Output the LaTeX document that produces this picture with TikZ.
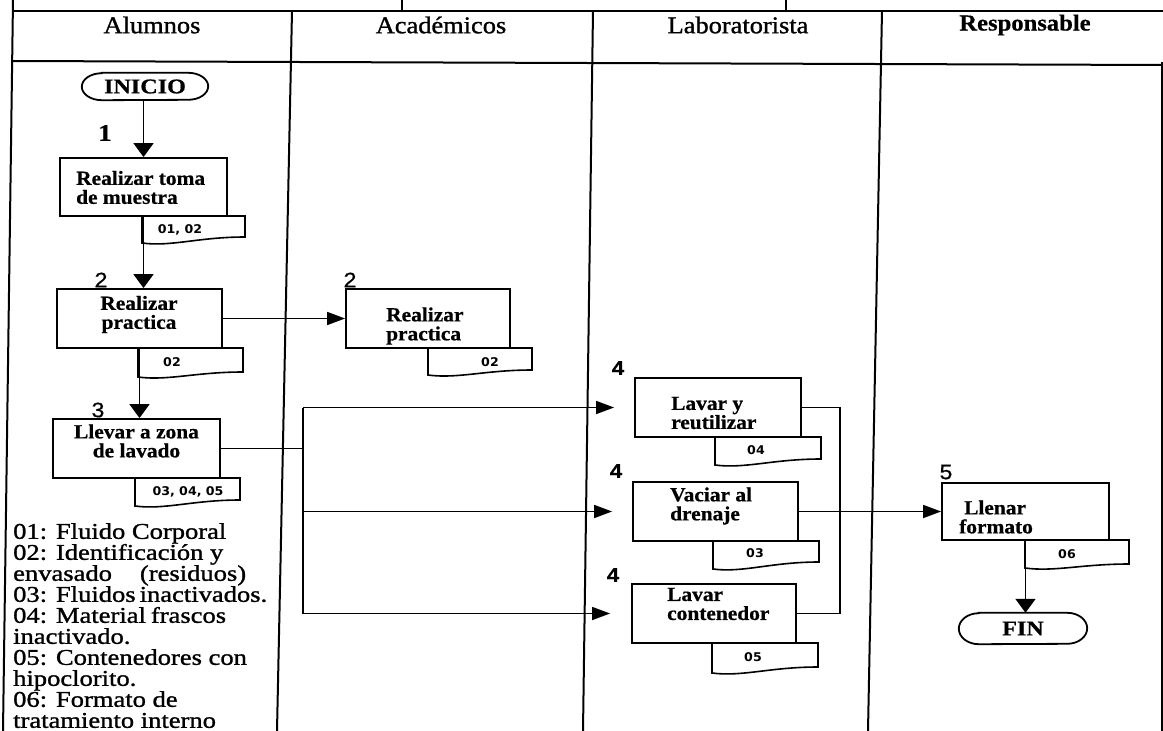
\documentclass[tikz,border=0pt]{standalone}
\usepackage{fontspec}
\setmainfont{Liberation Serif}
\newfontfamily\hdfont{Liberation Serif}[FakeStretch=1.1,FakeBold=1.2]
\newfontfamily\bxfont{Liberation Serif}[FakeStretch=1.07,FakeBold=0.6]
\newfontfamily\tmfont{Liberation Serif}[FakeStretch=1.15,FakeBold=0.6]
\newfontfamily\lgfont{Liberation Serif}[FakeStretch=1.18,FakeBold=1.2]
\newfontfamily\nmfont{Liberation Sans}[FakeStretch=1.1,FakeBold=0.6]
\newfontfamily\dcfont{DejaVu Sans}[FakeStretch=1.05]
\usetikzlibrary{arrows.meta,calc}

% document symbol hanging under a step box: left x, right x, top y, bottom-left y, bottom-right y
\newcommand{\docshape}[5]{%
  \pgfmathsetmacro{\dcA}{#1+0.28*(#2-#1)}%
  \pgfmathsetmacro{\dcB}{#1+0.55*(#2-#1)}%
  \pgfmathsetmacro{\dcC}{#4+4}%
  \draw[docline] (#1,#3) -- (#1,#4) .. controls (\dcA,\dcC) and (\dcB,#5) .. (#2,#5) -- (#2,#3) -- cycle;}

% start / end terminal outline around a named node
\newcommand{\termshape}[2]{%
  \draw[termline] ($(#1.north west)+(20,0)$) -- ($(#1.north east)+(-20,0)$)
    arc[start angle=90,end angle=-90,x radius=20pt,y radius=#2]
    -- ($(#1.south west)+(20,0)$)
    arc[start angle=270,end angle=90,x radius=20pt,y radius=#2] -- cycle;}

\begin{document}
\begin{tikzpicture}[x=1pt,y=-1pt,
  lane/.style={line width=2pt},
  stepbox/.style={draw, line width=1.8pt, rectangle, inner sep=0pt},
  steptext/.style={font=\bxfont\bfseries\fontsize{20}{19}\selectfont, inner sep=0pt},
  docline/.style={line width=1.6pt},
  doctext/.style={font=\dcfont\bfseries\fontsize{12}{13}\selectfont, inner sep=0pt},
  termline/.style={line width=1.8pt},
  term/.style={inner sep=0pt, font=\tmfont\bfseries\fontsize{21}{21}\selectfont},
  head/.style={font=\hdfont\fontsize{24}{26}\selectfont, inner sep=0pt},
  stepnum/.style={font=\nmfont\fontsize{21}{21}\selectfont, inner sep=0pt},
  flow/.style={line width=1.7pt},
  vflow/.style={flow, -{Triangle[length=14pt,width=20pt]}},
  hflow/.style={flow, -{Triangle[length=18pt,width=13pt]}},
  legend/.style={font=\lgfont\fontsize{22.5}{21}\selectfont, align=left, inner sep=0pt}
]
\useasboundingbox (0,0) rectangle (1163,731);
\fill[white] (0,0) rectangle (1163,731);

% ---- swimlane frame ----
\draw[lane] (13,0) -- (3,731);
\draw[lane] (292,11) -- (277,731);
\draw[lane] (593,11) -- (583,731);
\draw[lane] (882,11) -- (868,731);
\draw[lane] (1162,62) -- (1162,731);
\draw[lane] (13,11) -- (1163,11);
\draw[lane] (12,61) -- (1163,65);
\draw[lane] (402,0) -- (402,11);
\draw[lane] (786,0) -- (786,11);

\node[head] (hAl) at (152,25) {Alumnos};
\node[head] (hAc) at (441,25) {Académicos};
\node[head] (hLa) at (738,25) {Laboratorista};
\node[head, font=\bxfont\bfseries\fontsize{23}{26}\selectfont] (hRe) at (1025,25) {Responsable};

% ---- Alumnos ----
\node[term, minimum width=126pt, minimum height=27pt] (inicio) at (145,86.5) {INICIO};
\termshape{inicio}{13.5pt}

\node[stepbox, minimum width=167pt, minimum height=58pt] (r1) at (143.5,187) {};
\node[steptext, align=left, anchor=west] (r1t) at (76,187.5) {Realizar toma\\de muestra};
\docshape{142}{245}{216}{243}{237}
\node[doctext] (d1) at (180,230) {01, 02};

\node[stepbox, minimum width=165pt, minimum height=59pt] (r2) at (139.5,318.5) {};
\node[steptext, align=center] (r2t) at (139,314.5) {Realizar\\practica};
\docshape{138}{243}{348}{377}{372}
\node[doctext] (d2) at (172,362) {02};

\node[stepbox, minimum width=167pt, minimum height=59pt] (r3) at (136.5,448.5) {};
\node[steptext, align=center] (r3t) at (136.5,441) {Llevar a zona\\de lavado};
\docshape{135}{240}{478}{506}{500}
\node[doctext] (d3) at (188,492) {03, 04, 05};

\node[legend, anchor=north west] (leg) at (13,523) {01: Fluido Corporal\\
02: Identificación y\\
envasado\hspace{28pt}(residuos)\\
03: Fluidos\hspace{4pt}inactivados.\\
04: Material\hspace{5pt}frascos\\
inactivado.\\
05: Contenedores con\\
hipoclorito.\\
06: Formato de\\
tratamiento interno};

\node[font=\tmfont\bfseries\fontsize{24}{24}\selectfont, inner sep=0pt] (n1) at (105,133) {1};
\node[stepnum] (n2) at (101,280) {2};
\node[stepnum] (n3) at (98,410) {3};

% ---- Académicos ----
\node[stepbox, minimum width=164pt, minimum height=59pt] (a2) at (428,318.5) {};
\node[steptext, align=left, anchor=west] (a2t) at (386,326) {Realizar\\practica};
\docshape{428}{532}{348}{375}{370}
\node[doctext] (da) at (490,362) {02};
\node[stepnum] (na) at (350,280) {2};

% ---- Laboratorista ----
\node[stepbox, minimum width=166pt, minimum height=59pt] (l1) at (718,407.5) {};
\node[steptext, align=left, anchor=west] (l1t) at (671,413) {Lavar y\\reutilizar};
\docshape{715}{821}{437}{465}{459}
\node[doctext] (d4) at (756,450) {04};

\node[stepbox, minimum width=165pt, minimum height=59pt] (l2) at (715.5,511.5) {};
\node[steptext, align=left, anchor=west] (l2t) at (670,506) {Vaciar al\\drenaje};
\docshape{713}{819}{541}{569}{562}
\node[doctext] (d5) at (755,553) {03};

\node[stepbox, minimum width=164pt, minimum height=59pt] (l3) at (714,613.5) {};
\node[steptext, align=left, anchor=west] (l3t) at (667,604) {Lavar\\contenedor};
\docshape{712}{818}{643}{673}{667}
\node[doctext] (d6) at (753,657) {05};

\node[stepnum, font=\nmfont\bfseries\fontsize{20}{20}\selectfont] (n4a) at (618,368) {4};
\node[stepnum, font=\nmfont\bfseries\fontsize{20}{20}\selectfont] (n4b) at (616,471) {4};
\node[stepnum, font=\nmfont\bfseries\fontsize{20}{20}\selectfont] (n4c) at (613,575) {4};

% ---- Responsable ----
\node[stepbox, minimum width=167pt, minimum height=57pt] (f1) at (1025.5,511.5) {};
\node[steptext, align=left, anchor=west] (f1t) at (959,517) {\hspace*{5pt}Llenar\\formato};
\docshape{1025}{1129}{540}{568}{564}
\node[doctext] (d7) at (1067,554) {06};
\node[stepnum] (n5) at (946,472) {5};

\node[term, minimum width=128pt, minimum height=31pt] (fin) at (1023,628.5) {FIN};
\termshape{fin}{15.5pt}

% ---- connectors ----
\coordinate (split) at (303,0);
\coordinate (join) at (840,0);
\draw[vflow] (r1.north |- inicio.south) -- (r1.north);
\draw[vflow] (r1.south) -- (r1.south |- r2.north);
\draw[vflow] (r2.south) -- (r2.south |- r3.north);
\draw[hflow] (r2.east) -- (a2.west);
\draw[flow] (r3.east) -- (r3.east -| split);
\draw[flow] (split |- l1.west) -- (split |- l3.west);
\draw[hflow, shorten >=20pt] (split |- l1.west) -- (l1.west);
\draw[hflow, shorten >=20pt] (split |- l2.west) -- (l2.west);
\draw[hflow, shorten >=21pt] (split |- l3.west) -- (l3.west);
\draw[flow] (l1.east) -- (l1.east -| join) -- (l3.east -| join) -- (l3.east);
\draw[hflow] (l2.east) -- (f1.west);
\draw[vflow] (f1.south) -- (f1.south |- fin.north);
\end{tikzpicture}
\end{document}
